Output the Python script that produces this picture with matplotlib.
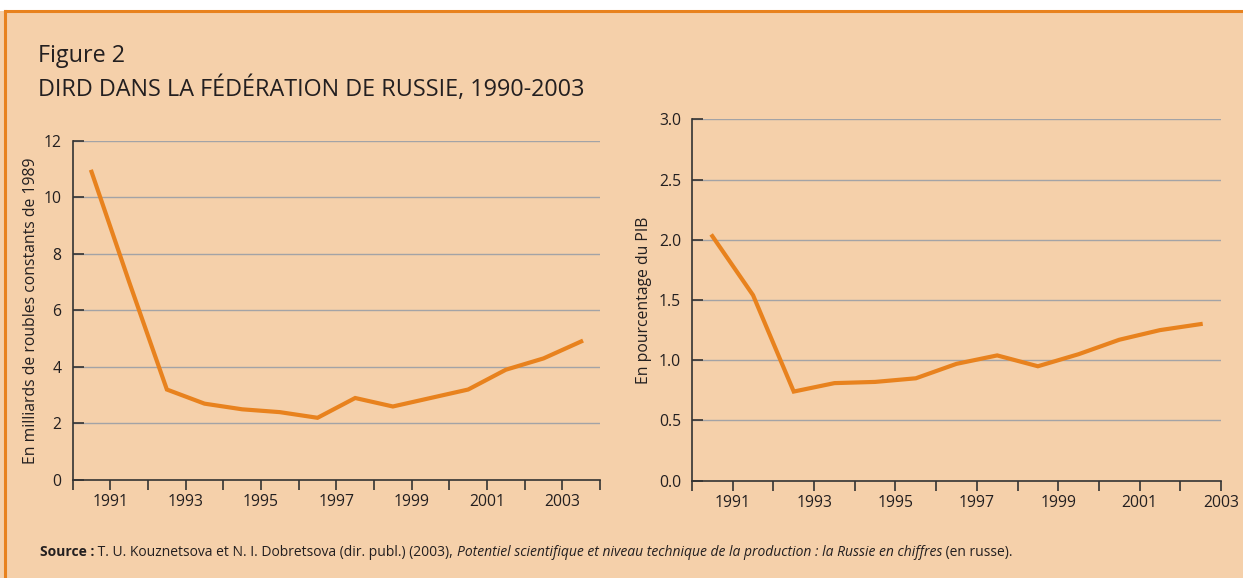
import matplotlib
matplotlib.use("Agg")
import matplotlib.pyplot as plt
from matplotlib.patches import Rectangle
from matplotlib.lines import Line2D

plt.rcParams['font.family'] = ['Open Sans', 'DejaVu Sans']

# left panel: DIRD, billions of constant 1989 roubles
years_left = list(range(1990, 2004))
dird_roubles = [10.9, 7.0, 3.2, 2.7, 2.5, 2.4, 2.2, 2.9, 2.6, 2.9, 3.2, 3.9, 4.3, 4.9]

# right panel: DIRD as a share of GDP (%)
years_right = list(range(1990, 2003))
dird_pib = [2.03, 1.54, 0.74, 0.81, 0.82, 0.85, 0.97, 1.04, 0.95, 1.05, 1.17, 1.25, 1.30]

tick_labels = ['1991', '1993', '1995', '1997', '1999', '2001', '2003']

BG = '#F5D0AA'
ORANGE = '#E8821E'
GRID = '#A3A3A6'
INK = '#231F20'

W, H = 1243, 578
fig = plt.figure(figsize=(W / 100, H / 100), dpi=100)
fig.patch.set_facecolor('white')

# peach panel with orange rule on top and left (drawn below the axes)
fig.patches.append(Rectangle((0, 0), 1, 1 - 11 / H, transform=fig.transFigure,
                             facecolor=BG, edgecolor='none', zorder=-2))
fig.lines.append(Line2D([5 / W, 1], [1 - 11 / H, 1 - 11 / H], transform=fig.transFigure,
                        color=ORANGE, lw=2.2, zorder=-1))
fig.lines.append(Line2D([5 / W, 5 / W], [0, 1 - 11 / H], transform=fig.transFigure,
                        color=ORANGE, lw=2.2, zorder=-1))

fig.text(38 / W, 1 - 62 / H, 'Figure 2', fontsize=16.8, color=INK)
fig.text(38 / W, 1 - 96 / H, 'DIRD DANS LA FÉDÉRATION DE RUSSIE, 1990-2003',
         fontsize=16.8, color=INK)


def style_axes(ax, n, ymax, ystep, yfmt):
    ax.set_facecolor('none')
    ax.set_xlim(0, n)
    ax.set_ylim(0, ymax)
    for s in ['top', 'right']:
        ax.spines[s].set_visible(False)
    for s in ['left', 'bottom']:
        ax.spines[s].set_color('#333333')
        ax.spines[s].set_linewidth(1.2)
    yt = [i * ystep for i in range(int(round(ymax / ystep)) + 1)]
    ax.set_yticks(yt)
    ax.set_yticklabels([yfmt.format(v) for v in yt])
    for v in yt[1:]:
        ax.axhline(v, color=GRID, lw=1.0, zorder=1)
    ax.set_xticks(range(n + 1))
    labels = [''] * (n + 1)
    for i, lab in enumerate(tick_labels):
        if 2 * i + 1 <= n:
            labels[2 * i + 1] = lab
    ax.set_xticklabels(labels)
    ax.tick_params(axis='y', direction='in', length=8, width=1.2, color='#333333',
                   pad=8, labelsize=11.3, labelcolor=INK)
    ax.tick_params(axis='x', direction='out', length=7, width=1.2, color='#333333',
                   pad=3, labelsize=11.3, labelcolor=INK)


ax1 = fig.add_axes([72.7 / W, 98 / H, 527.3 / W, 339.3 / H])
style_axes(ax1, len(years_left), 12, 2, '{:.0f}')
ax1.plot([i + 0.5 for i in range(len(years_left))], dird_roubles,
         color=ORANGE, lw=3, solid_joinstyle='miter', zorder=3)
ax1.set_ylabel('En milliards de roubles constants de 1989', fontsize=11.3,
               color=INK, labelpad=3)

ax2 = fig.add_axes([692 / W, 97.3 / H, 529 / W, 361.4 / H])
style_axes(ax2, len(years_right), 3.0, 0.5, '{:.1f}')
ax2.plot([i + 0.5 for i in range(len(years_right))], dird_pib,
         color=ORANGE, lw=3, solid_joinstyle='miter', zorder=3)
ax2.set_ylabel('En pourcentage du PIB', fontsize=11.3, color=INK, labelpad=5)

# source line, built from pieces with different weights/styles
pieces = [
    ('Source :', dict(fontweight='bold')),
    (' T. U. Kouznetsova et N. I. Dobretsova (dir. publ.) (2003), ', {}),
    ('Potentiel scientifique et niveau technique de la production : la Russie en chiffres', dict(fontstyle='italic')),
    (' (en russe).', {}),
]
renderer = fig.canvas.get_renderer()
x = 40
for txt, kw in pieces:
    t = fig.text(x / W, 1 - 556 / H, txt, fontsize=10, color=INK, **kw)
    bb = t.get_window_extent(renderer=renderer)
    x += bb.width

fig.savefig('out.png', dpi=100, facecolor=fig.get_facecolor())
